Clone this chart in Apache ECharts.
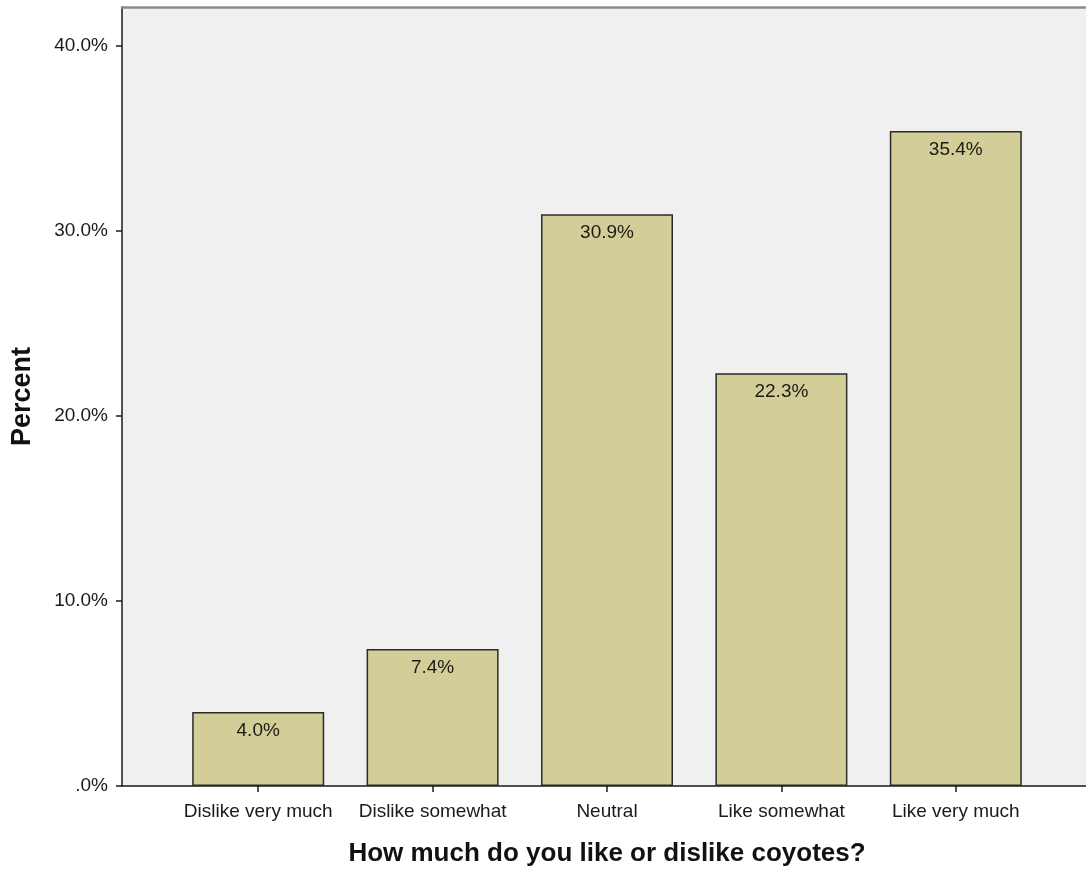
<!DOCTYPE html>
<html><head><meta charset="utf-8">
<script src="https://cdn.jsdelivr.net/npm/echarts@6/dist/echarts.min.js"></script>
<style>html,body{margin:0;padding:0;background:#fff}#c{width:1086px;height:869px}</style>
</head><body><div id="c"></div>
<script>
const categories = ['Dislike very much', 'Dislike somewhat', 'Neutral', 'Like somewhat', 'Like very much'];
const percentValues = [4.0, 7.4, 30.9, 22.3, 35.4];
const yTickValues = [0, 10, 20, 30, 40];
const yMax = 42.1;

const font = 'Liberation Sans, Arial, sans-serif';
const chart = echarts.init(document.getElementById('c'));
chart.setOption({
  animation: false,
  backgroundColor: '#ffffff',
  grid: [
    {left: 122, right: 0, top: 7, bottom: 83, show: true, backgroundColor: '#F0F0F0', borderWidth: 0, outerBoundsMode: 'none', containLabel: false},
    {left: 171, right: 43, top: 7, bottom: 83, outerBoundsMode: 'none', containLabel: false}
  ],
  xAxis: [
    {gridIndex: 0, type: 'value', min: 0, max: 1, axisLine: {show: true, lineStyle: {color: '#1a1a1a', width: 1.5}},
     axisTick: {show: false}, axisLabel: {show: false}, splitLine: {show: false}},
    {gridIndex: 0, type: 'value', position: 'top', min: 0, max: 1, axisLine: {show: true, lineStyle: {color: '#8a8a8a', width: 2.5}},
     axisTick: {show: false}, axisLabel: {show: false}, splitLine: {show: false}},
    {gridIndex: 1, type: 'category', data: categories, axisLine: {show: false},
     axisTick: {show: true, alignWithLabel: true, length: 6, lineStyle: {color: '#1a1a1a', width: 1.5}},
     axisLabel: {color: '#1a1a1a', fontSize: 19, fontFamily: font, margin: 16, interval: 0},
     name: 'How much do you like or dislike coyotes?', nameLocation: 'middle', nameGap: 55, nameMoveOverlap: false,
     nameTextStyle: {fontSize: 26, fontWeight: 'bold', color: '#111', fontFamily: font}}
  ],
  yAxis: [
    {gridIndex: 0, type: 'value', min: 0, max: yMax,
     axisLine: {show: true, lineStyle: {color: '#1a1a1a', width: 1.5}},
     axisTick: {show: true, length: 6, customValues: yTickValues, lineStyle: {color: '#1a1a1a', width: 1.5}},
     axisLabel: {customValues: yTickValues, color: '#1a1a1a', fontSize: 19, fontFamily: font, margin: 14,
       formatter: v => v === 0 ? '.0%' : v.toFixed(1) + '%'},
     splitLine: {show: false},
     name: 'Percent', nameLocation: 'middle', nameGap: 86, nameMoveOverlap: false,
     nameTextStyle: {fontSize: 27, fontWeight: 'bold', color: '#111', fontFamily: font}},
    {gridIndex: 1, type: 'value', min: 0, max: yMax, show: false, splitLine: {show: false}}
  ],
  series: [{
    type: 'bar', xAxisIndex: 2, yAxisIndex: 1, data: percentValues, barWidth: 132,
    itemStyle: {color: '#D3CE97', borderColor: '#2a2a2a', borderWidth: 1.5},
    label: {show: true, position: 'insideTop', distance: 9, color: '#1a1a1a', fontSize: 19, fontFamily: font,
      formatter: p => p.value.toFixed(1) + '%'}
  }]
});
</script></body></html>
